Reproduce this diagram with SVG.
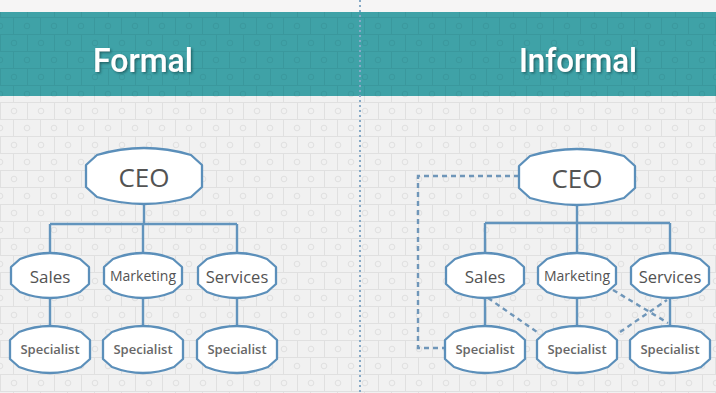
<svg xmlns="http://www.w3.org/2000/svg" xmlns:xlink="http://www.w3.org/1999/xlink" width="716" height="393" viewBox="0 0 716 393">
<style>
.node{fill:#ffffff;stroke:#5b8fba;stroke-width:2.3;stroke-linejoin:round}
.solid{fill:none;stroke:#6294bd;stroke-width:2.4}
.dash{fill:none;stroke:#6f96b9;stroke-width:2.4;stroke-dasharray:5 4}
.lbl{font-family:"Open Sans","Noto Sans",sans-serif;fill:#535353;text-anchor:middle;dominant-baseline:central}
.ceo{font-size:26px}
.mid{font-size:16.5px}
.spec{font-size:13px;font-weight:600;fill:#676767}
.title{font-family:Roboto,"Open Sans",sans-serif;font-size:33px;font-weight:500;fill:#ffffff;filter:url(#shadow)}
</style>
<defs>
<pattern id="bg" width="54" height="34" patternUnits="userSpaceOnUse">
<rect width="54" height="34" fill="#f1f1f1"/>
<g fill="none" stroke="#e0e0e0" stroke-width="1">
<path d="M0,0.5H54M0,17.5H54M0.5,0V17M27.5,0V17M13.5,17V34M40.5,17V34"/>
<circle cx="14" cy="9" r="2.8"/><circle cx="41" cy="9" r="2.8"/>
<circle cx="0" cy="26" r="2.8"/><circle cx="27" cy="26" r="2.8"/><circle cx="54" cy="26" r="2.8"/>
</g>
</pattern>
<pattern id="hd" width="54" height="34" patternUnits="userSpaceOnUse">
<rect width="54" height="34" fill="#3fa2a7"/>
<g fill="none" stroke="#3a989d" stroke-width="1">
<path d="M0,0.5H54M0,17.5H54M0.5,0V17M27.5,0V17M13.5,17V34M40.5,17V34"/>
<circle cx="14" cy="9" r="2.8"/><circle cx="41" cy="9" r="2.8"/>
<circle cx="0" cy="26" r="2.8"/><circle cx="27" cy="26" r="2.8"/><circle cx="54" cy="26" r="2.8"/>
</g>
</pattern>
<filter id="shadow" x="-10%" y="-20%" width="130%" height="150%">
<feDropShadow dx="1.5" dy="1.5" stdDeviation="0.8" flood-color="#1f5e62" flood-opacity="0.9"/>
</filter>
<path id="ceoShape" d="M11,7 Q58,-7 105,7 L116,17 L116,39 L105,49 Q58,63 11,49 L0,39 L0,17 Z"/>
<path id="midShape" d="M9,6 Q39,-6 69,6 L78,14 L78,31 L69,39 Q39,51 9,39 L0,31 L0,14 Z"/>
<path id="specShape" d="M9,6 Q40,-6 71,6 L80,14 L80,33 L71,41 Q40,53 9,41 L0,33 L0,14 Z"/>
</defs>

<rect width="716" height="393" fill="url(#bg)"/>
<rect width="716" height="12" fill="#f6f5f5"/>
<rect y="12" width="716" height="84" fill="url(#hd)"/>
<line x1="360" y1="0" x2="360" y2="393" stroke="#86a9c6" stroke-width="2" stroke-dasharray="2 3"/>

<g id="titles">
<text class="title" x="93" y="72" textLength="100" lengthAdjust="spacingAndGlyphs">Formal</text>
<text class="title" x="519" y="72" textLength="118" lengthAdjust="spacingAndGlyphs">Informal</text>
</g>

<g id="connectors">
<path class="solid" d="M144,204V224M50,224H237M50,224V253M143,224V253M237,224V253M50,298V326M143,298V326M237,298V326"/>
<path class="solid" d="M577,205V223M485,223H670M485,223V253M577,223V253M670,223V253M485,298V326M577,298V326M670,298V326"/>
<path class="dash" d="M519,176H418V348H445"/>
<path class="dash" d="M488,298L537,332"/>
<path class="dash" d="M613,290L668,323"/>
<path class="dash" d="M620,332L667,300"/>
</g>

<g id="f-ceo"><use xlink:href="#ceoShape" class="node" x="86" y="148"/><text class="lbl ceo" x="144" y="177">CEO</text></g>
<g id="f-sales"><use xlink:href="#midShape" class="node" x="11" y="253"/><text class="lbl mid" x="50" y="276" style="font-size:17px">Sales</text></g>
<g id="f-marketing"><use xlink:href="#midShape" class="node" x="104" y="253"/><text class="lbl mid" x="143" y="275" style="font-size:14px">Marketing</text></g>
<g id="f-services"><use xlink:href="#midShape" class="node" x="198" y="253"/><text class="lbl mid" x="237" y="276">Services</text></g>
<g id="f-spec1"><use xlink:href="#specShape" class="node" x="10" y="326"/><text class="lbl spec" x="50" y="349">Specialist</text></g>
<g id="f-spec2"><use xlink:href="#specShape" class="node" x="103" y="326"/><text class="lbl spec" x="143" y="349">Specialist</text></g>
<g id="f-spec3"><use xlink:href="#specShape" class="node" x="197" y="326"/><text class="lbl spec" x="237" y="349">Specialist</text></g>

<g id="i-ceo"><use xlink:href="#ceoShape" class="node" x="519" y="149"/><text class="lbl ceo" x="577" y="178">CEO</text></g>
<g id="i-sales"><use xlink:href="#midShape" class="node" x="446" y="253"/><text class="lbl mid" x="485" y="276" style="font-size:17px">Sales</text></g>
<g id="i-marketing"><use xlink:href="#midShape" class="node" x="538" y="253"/><text class="lbl mid" x="577" y="275" style="font-size:14px">Marketing</text></g>
<g id="i-services"><use xlink:href="#midShape" class="node" x="631" y="253"/><text class="lbl mid" x="670" y="276">Services</text></g>
<g id="i-spec1"><use xlink:href="#specShape" class="node" x="445" y="326"/><text class="lbl spec" x="485" y="349">Specialist</text></g>
<g id="i-spec2"><use xlink:href="#specShape" class="node" x="537" y="326"/><text class="lbl spec" x="577" y="349">Specialist</text></g>
<g id="i-spec3"><use xlink:href="#specShape" class="node" x="630" y="326"/><text class="lbl spec" x="670" y="349">Specialist</text></g>
</svg>
